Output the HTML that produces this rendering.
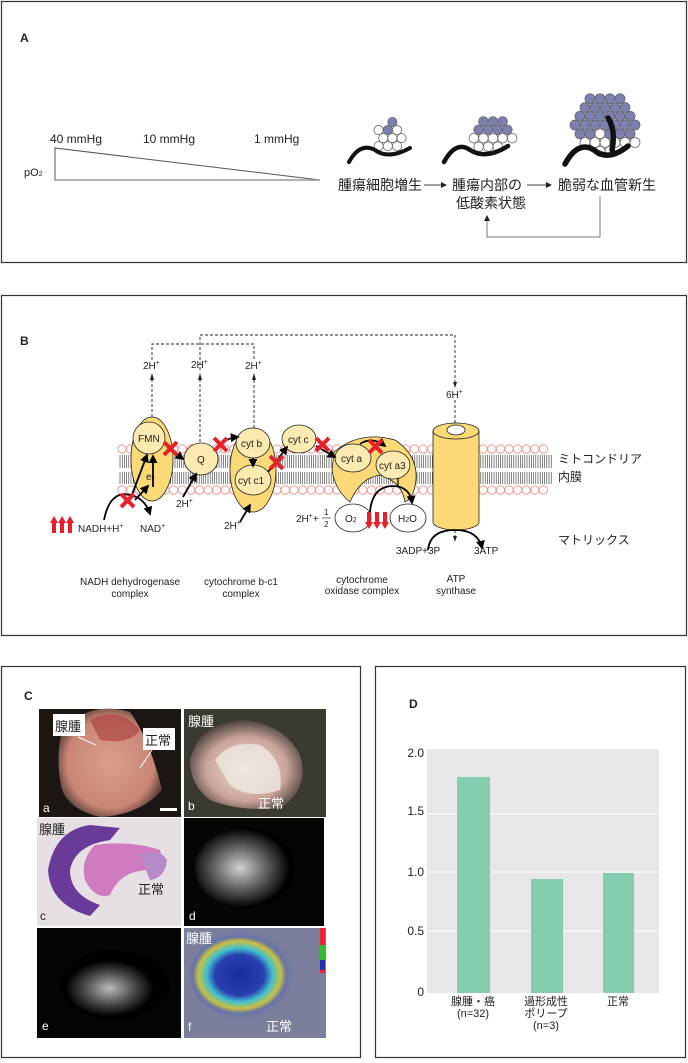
<!DOCTYPE html>
<html><head><meta charset="utf-8">
<style>
html,body{margin:0;padding:0;background:#fff}
svg{display:block}
text{font-family:"Liberation Sans","Noto Sans CJK JP",sans-serif;fill:#222}
.s{font-size:10px}
</style></head><body>
<svg id="sv" width="688" height="1063" viewBox="0 0 688 1063" xmlns="http://www.w3.org/2000/svg">
<defs>
<marker id="ah" markerWidth="6" markerHeight="6" refX="5" refY="3" orient="auto"><path d="M0,0 L6,3 L0,6z" fill="#222"/></marker>
<marker id="ahb" markerWidth="5" markerHeight="5" refX="4" refY="2.5" orient="auto"><path d="M0,0 L5,2.5 L0,5z" fill="#000"/></marker>
<radialGradient id="ga" cx="50%" cy="50%" r="60%"><stop offset="0" stop-color="#d9a08e"/><stop offset="0.7" stop-color="#c98575"/><stop offset="1" stop-color="#2a2220"/></radialGradient>
<radialGradient id="gb" cx="50%" cy="55%" r="60%"><stop offset="0" stop-color="#ece4dc"/><stop offset="0.6" stop-color="#c9a39a"/><stop offset="1" stop-color="#2c2a26"/></radialGradient>
<radialGradient id="gd" cx="45%" cy="50%" r="50%"><stop offset="0" stop-color="#d0d0d0"/><stop offset="0.5" stop-color="#666"/><stop offset="1" stop-color="#000"/></radialGradient>
<radialGradient id="ge" cx="45%" cy="55%" r="40%"><stop offset="0" stop-color="#bbb"/><stop offset="0.6" stop-color="#444"/><stop offset="1" stop-color="#000"/></radialGradient>
<radialGradient id="gf" cx="45%" cy="50%" r="50%"><stop offset="0" stop-color="#1a2a9a"/><stop offset="0.45" stop-color="#2a3fb0"/><stop offset="0.6" stop-color="#40c0d0"/><stop offset="0.75" stop-color="#c8c040"/><stop offset="0.85" stop-color="#6a74a8"/><stop offset="1" stop-color="#7c7f9c"/></radialGradient>
</defs>

<!-- Panel A -->
<rect x="1.5" y="1.5" width="685" height="261" fill="none" stroke="#333" stroke-width="1.2"/>
<text x="20" y="42" style="font-size:12px;font-weight:bold">A</text>
<text x="50" y="143" style="font-size:12px">40 mmHg</text>
<text x="143" y="143" style="font-size:12px">10 mmHg</text>
<text x="254" y="143" style="font-size:12px">1 mmHg</text>
<text x="24" y="176" style="font-size:11px">pO<tspan style="font-size:7px">2</tspan></text>
<path d="M55,148 L55,180 L320,180 Z" fill="none" stroke="#555" stroke-width="1"/>
<line x1="55" y1="180" x2="320" y2="180" stroke="#999" stroke-width="1.5"/>
<g id="cells"></g>
<text x="338" y="190" style="font-size:14px">腫瘍細胞増生</text>
<line x1="424" y1="185" x2="446" y2="185" stroke="#444" marker-end="url(#ah)"/>
<text x="452" y="190" style="font-size:14px">腫瘍内部の</text>
<text x="456" y="208" style="font-size:14px">低酸素状態</text>
<line x1="527" y1="185" x2="551" y2="185" stroke="#444" marker-end="url(#ah)"/>
<text x="558" y="190" style="font-size:14px">脆弱な血管新生</text>
<path d="M600,196 L600,237 L487,237 L487,216" fill="none" stroke="#777" stroke-width="1" marker-end="url(#ah)"/>

<!-- Panel B -->
<rect x="1.5" y="295.5" width="685" height="340" fill="none" stroke="#333" stroke-width="1.2"/>
<text x="20" y="345" style="font-size:12px;font-weight:bold">B</text>
<g stroke="#222" stroke-width="0.9" stroke-dasharray="3,2" fill="none">
<path d="M200,370 L200,335 L455,335 L455,382"/>
<path d="M152,360 L152,344 L254,344 L254,360"/>
<path d="M152,422 L152,378"/>
<path d="M200,442 L200,378"/>
<path d="M254,428 L254,378"/>
<path d="M455,400 L455,540"/>
</g>
<g fill="#222"><path d="M150,380 L152,373 L154,380z"/><path d="M198,380 L200,373 L202,380z"/><path d="M252,380 L254,373 L256,380z"/><path d="M453,382 L455,388 L457,382z"/><path d="M453,536 L455,542 L457,536z"/></g>
<text x="143" y="369" class="s">2H<tspan style="font-size:7px" dy="-4">+</tspan></text>
<text x="191" y="368" class="s">2H<tspan style="font-size:7px" dy="-4">+</tspan></text>
<text x="245" y="369" class="s">2H<tspan style="font-size:7px" dy="-4">+</tspan></text>
<text x="446" y="398" class="s">6H<tspan style="font-size:7px" dy="-4">+</tspan></text>
<g id="mem"></g>
<ellipse cx="152" cy="459" rx="21" ry="42" fill="#fbd977" stroke="#222" stroke-width="0.8"/>
<circle cx="149" cy="438" r="16" fill="#fdeab0" stroke="#222" stroke-width="0.8"/>
<text x="138" y="442" class="s">FMN</text>
<text x="146" y="480" class="s">e-</text>
<ellipse cx="201" cy="459" rx="17" ry="16" fill="#fdeab0" stroke="#222" stroke-width="0.8"/>
<text x="197" y="463" class="s">Q</text>
<ellipse cx="253" cy="470" rx="23" ry="42" fill="#fbd977" stroke="#222" stroke-width="0.8"/>
<ellipse cx="253" cy="443" rx="17" ry="15" fill="#fdeab0" stroke="#222" stroke-width="0.8"/>
<text x="241" y="447" class="s">cyt b</text>
<ellipse cx="253" cy="480" rx="18" ry="15" fill="#fdeab0" stroke="#222" stroke-width="0.8"/>
<text x="238" y="484" class="s">cyt c1</text>
<ellipse cx="299" cy="439" rx="17" ry="14" fill="#fdeab0" stroke="#222" stroke-width="0.8"/>
<text x="288" y="443" class="s">cyt c</text>
<path d="M334,452 Q360,430 395,440 Q418,455 416,480 Q414,498 405,502 Q402,482 380,475 Q360,478 350,502 Q335,490 332,470 Z" fill="#fbd977" stroke="#222" stroke-width="0.8"/>
<ellipse cx="353" cy="458" rx="18" ry="14" fill="#fdeab0" stroke="#222" stroke-width="0.8"/>
<text x="341" y="462" class="s">cyt a</text>
<ellipse cx="393" cy="465" rx="17" ry="14" fill="#fdeab0" stroke="#222" stroke-width="0.8"/>
<text x="379" y="469" class="s">cyt a3</text>
<ellipse cx="353" cy="518" rx="18" ry="14" fill="#fff" stroke="#222" stroke-width="0.8"/>
<text x="345" y="522" class="s">O<tspan style="font-size:7px">2</tspan></text>
<ellipse cx="408" cy="518" rx="18" ry="14" fill="#fff" stroke="#222" stroke-width="0.8"/>
<text x="398" y="522" class="s">H<tspan style="font-size:7px">2</tspan>O</text>
<path d="M433,431 L433,522 A23,8 0 0 0 479,522 L479,431" fill="#fbd977" stroke="#222" stroke-width="0.8"/>
<ellipse cx="456" cy="431" rx="23" ry="8" fill="#fbd977" stroke="#222" stroke-width="0.8"/>
<ellipse cx="456" cy="430" rx="9" ry="5" fill="#fff" stroke="#222" stroke-width="0.8"/>
<g stroke="#000" stroke-width="1.8" fill="none" marker-end="url(#ahb)">
<path d="M104,520 Q110,490 130,495 Q145,498 150,514"/>
<line x1="130" y1="500" x2="147" y2="455"/>
<line x1="135" y1="500" x2="148" y2="486"/>
<line x1="153" y1="487" x2="153" y2="456"/>
<line x1="167" y1="447" x2="183" y2="459"/>
<line x1="183" y1="497" x2="196" y2="474"/>
<path d="M216,448 Q225,438 238,437"/>
<line x1="253" y1="458" x2="253" y2="466"/>
<line x1="268" y1="472" x2="287" y2="447"/>
<line x1="240" y1="522" x2="250" y2="505"/>
<line x1="316" y1="446" x2="335" y2="457"/>
<path d="M360,444 Q372,436 385,446"/>
<path d="M370,512 Q372,487 392,486 Q410,486 412,503"/>
<path d="M428,550 Q430,530 455,530 Q478,530 482,548"/>
</g>
<line x1="398" y1="478" x2="398" y2="486" stroke="#000" stroke-width="1.2"/>
<g stroke="#e8202a" stroke-width="4" stroke-linecap="butt">
<path d="M164,442 L177,455 M177,442 L164,455"/>
<path d="M214,438 L227,451 M227,438 L214,451"/>
<path d="M270,456 L283,469 M283,456 L270,469"/>
<path d="M316,438 L329,451 M329,438 L316,451"/>
<path d="M369,440 L382,453 M382,440 L369,453"/>
<path d="M121,494 L134,507 M134,494 L121,507"/>
</g>
<g fill="#e8202a"><path d="M52,533 L52,523 L50,523 L54,516 L58,523 L56,523 L56,533z"/><path d="M60,533 L60,523 L58,523 L62,516 L66,523 L64,523 L64,533z"/><path d="M68,533 L68,523 L66,523 L70,516 L74,523 L72,523 L72,533z"/>
<path d="M367,512 L367,522 L365,522 L369,529 L373,522 L371,522 L371,512z"/><path d="M375,512 L375,522 L373,522 L377,529 L381,522 L379,522 L379,512z"/><path d="M383,512 L383,522 L381,522 L385,529 L389,522 L387,522 L387,512z"/></g>
<text x="78" y="532" class="s">NADH+H<tspan style="font-size:7px" dy="-4">+</tspan></text>
<text x="140" y="532" class="s">NAD<tspan style="font-size:7px" dy="-4">+</tspan></text>
<text x="176" y="507" class="s">2H<tspan style="font-size:7px" dy="-4">+</tspan></text>
<text x="224" y="529" class="s">2H<tspan style="font-size:7px" dy="-4">+</tspan></text>
<text x="296" y="522" class="s">2H<tspan style="font-size:7px" dy="-4">+</tspan><tspan dy="4">+</tspan></text>
<text x="324" y="515" style="font-size:8px">1</text><line x1="322" y1="518" x2="331" y2="518" stroke="#222" stroke-width="0.6"/><text x="324" y="527" style="font-size:8px">2</text>
<text x="396" y="554" class="s">3ADP+3P</text>
<text x="474" y="554" class="s">3ATP</text>
<text x="558" y="463" style="font-size:12px">ミトコンドリア</text>
<text x="558" y="481" style="font-size:12px">内膜</text>
<text x="558" y="544" style="font-size:12px">マトリックス</text>
<g class="s" text-anchor="middle">
<text x="130" y="585">NADH dehydrogenase</text><text x="130" y="597">complex</text>
<text x="241" y="585">cytochrome b-c1</text><text x="241" y="597">complex</text>
<text x="362" y="583">cytochrome</text><text x="362" y="594">oxidase complex</text>
<text x="456" y="582">ATP</text><text x="456" y="594">synthase</text>
</g>

<!-- Panel C -->
<rect x="1.5" y="666.5" width="359" height="391" fill="none" stroke="#333" stroke-width="1.2"/>
<text x="24" y="700" style="font-size:12px;font-weight:bold">C</text>
<rect x="39" y="709" width="142" height="108" fill="#1a1613"/>
<path d="M62,730 Q90,700 130,712 Q150,740 162,790 Q140,815 100,817 Q70,810 62,790 Q55,760 62,730Z" fill="url(#ga)"/>
<path d="M90,720 Q120,705 140,730 Q130,745 100,740Z" fill="#a83a3a" opacity="0.6"/>
<rect x="53" y="714" width="32" height="22" fill="#fff"/><text x="55" y="731" style="font-size:13px">腺腫</text>
<rect x="143" y="728" width="32" height="22" fill="#fff"/><text x="145" y="745" style="font-size:13px">正常</text>
<line x1="78" y1="737" x2="96" y2="745" stroke="#fff"/><line x1="152" y1="750" x2="140" y2="768" stroke="#fff"/>
<rect x="160" y="808" width="17" height="3" fill="#fff"/>
<text x="43" y="812" style="font-size:12px;fill:#fff">a</text>
<rect x="184" y="709" width="142" height="108" fill="#3a3a30"/>
<path d="M190,760 Q200,720 245,720 Q285,725 300,755 Q310,790 280,808 Q240,812 210,800 Q190,785 190,760Z" fill="url(#gb)"/>
<path d="M215,760 Q230,740 260,745 Q285,760 280,790 Q250,800 230,785Z" fill="#eee8e0" opacity="0.8"/>
<text x="188" y="726" style="font-size:13px;fill:#fff">腺腫</text>
<text x="258" y="808" style="font-size:13px;fill:#fff">正常</text>
<text x="188" y="810" style="font-size:12px;fill:#fff">b</text>
<rect x="37" y="818" width="144" height="108" fill="#e6e0e4"/>
<path d="M90,825 Q55,830 48,870 Q50,905 90,916 L100,905 Q70,895 70,870 Q75,845 110,840 L120,828Z" fill="#6a3a98"/>
<path d="M95,845 Q80,860 85,880 Q95,900 110,895 Q120,870 150,870 Q165,865 160,850 Q130,840 95,845Z" fill="#d07ac0"/>
<path d="M140,855 Q160,848 167,860 Q165,878 150,880Z" fill="#b68ac8"/>
<text x="39" y="834" style="font-size:13px">腺腫</text>
<text x="138" y="894" style="font-size:13px">正常</text>
<text x="40" y="920" style="font-size:12px">c</text>
<rect x="184" y="818" width="140" height="108" fill="#050505"/>
<ellipse cx="245" cy="868" rx="50" ry="40" fill="url(#gd)"/>
<text x="189" y="920" style="font-size:12px;fill:#fff">d</text>
<rect x="37" y="928" width="144" height="110" fill="#050505"/>
<ellipse cx="115" cy="985" rx="55" ry="35" fill="url(#ge)"/>
<text x="42" y="1030" style="font-size:12px;fill:#fff">e</text>
<rect x="184" y="928" width="142" height="110" fill="#7c7f9c"/>
<ellipse cx="245" cy="975" rx="55" ry="45" fill="url(#gf)"/>
<rect x="320" y="928" width="5" height="45" fill="#e23"/><rect x="320" y="945" width="5" height="15" fill="#3b3"/><rect x="320" y="960" width="5" height="10" fill="#23a"/>
<text x="186" y="943" style="font-size:13px;fill:#fff">腺腫</text>
<text x="266" y="1031" style="font-size:13px;fill:#fff">正常</text>
<text x="188" y="1031" style="font-size:12px;fill:#fff">f</text>

<!-- Panel D -->
<rect x="375.5" y="666.5" width="310" height="391" fill="none" stroke="#333" stroke-width="1.2"/>
<text x="409" y="708" style="font-size:12px;font-weight:bold">D</text>
<rect x="427" y="749" width="232" height="244" fill="#e7e7e9"/>
<g stroke="#fff" stroke-width="1"><line x1="427" y1="814" x2="659" y2="814"/><line x1="427" y1="872" x2="659" y2="872"/><line x1="427" y1="931" x2="659" y2="931"/></g>
<g style="font-size:12px" text-anchor="end"><text x="424" y="757">2.0</text><text x="424" y="815">1.5</text><text x="424" y="876">1.0</text><text x="424" y="935">0.5</text><text x="424" y="996">0</text></g>
<rect x="457" y="777" width="33" height="216" fill="#84cdb0"/>
<rect x="531" y="879" width="32" height="114" fill="#84cdb0"/>
<rect x="603" y="873" width="31" height="120" fill="#84cdb0"/>
<g style="font-size:11px" text-anchor="middle">
<text x="473" y="1005">腺腫・癌</text><text x="473" y="1017">(n=32)</text>
<text x="546" y="1005">過形成性</text><text x="546" y="1017">ポリープ</text><text x="546" y="1029">(n=3)</text>
<text x="618" y="1005">正常</text>
</g>
</svg>
<script>
var NS="http://www.w3.org/2000/svg";
function el(p,t,a){var e=document.createElementNS(NS,t);for(var k in a)e.setAttribute(k,a[k]);p.appendChild(e);return e;}
var mem=document.getElementById("mem");
for(var x=120;x<=552;x+=2.2){el(mem,"line",{x1:x,y1:455,x2:x,y2:468,stroke:"#333","stroke-width":0.6});el(mem,"line",{x1:x,y1:472,x2:x,y2:484,stroke:"#333","stroke-width":0.6});}
for(var x=122;x<=552;x+=8.6){el(mem,"circle",{cx:x,cy:449,r:4.2,fill:"#fff",stroke:"#ee8a80","stroke-width":0.8});el(mem,"circle",{cx:x,cy:490,r:4.2,fill:"#fff",stroke:"#ee8a80","stroke-width":0.8});}
var cg=document.getElementById("cells");
function cluster(cx,cy,R,r,blueFrac,seed){var s=seed;function rnd(){s=(s*9301+49297)%233280;return s/233280;}
for(var y=cy-R;y<=cy+R;y+=r*1.75){var row=Math.round((y-cy)/(r*1.75));for(var x=cx-R;x<=cx+R;x+=r*2){var xx=x+((Math.abs(row)%2)?r:0);var d=Math.hypot(xx-cx,y-cy);if(d<R*(0.85+0.25*rnd())){var b=(y<cy+R*blueFrac)&&rnd()<0.9;el(cg,"circle",{cx:xx,cy:y,r:r,fill:b?"#7c80b0":"#fff",stroke:"#666","stroke-width":0.8});}}}}
cluster(390,138,16,4.6,-0.45,3);
cluster(490,134,21,4.8,0.0,7);
cluster(607,122,32,5,0.6,11);
var p=[["M349,162 Q360,142 375,150 Q388,160 410,148",4],["M444,162 Q456,140 470,150 Q486,160 508,146",4.5],["M565,164 Q578,140 594,150 Q608,162 628,146 M612,150 Q616,130 608,118",5.5]];
p.forEach(function(q){el(cg,"path",{d:q[0],fill:"none",stroke:"#111","stroke-width":q[1],"stroke-linecap":"round"});});
</script>
</body></html>
